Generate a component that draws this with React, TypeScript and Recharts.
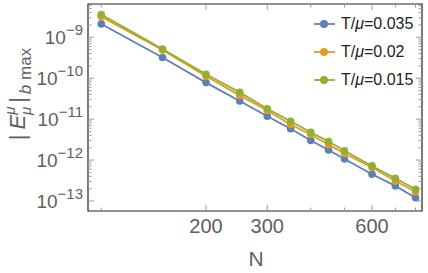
import { LineChart, Line, XAxis, YAxis, ReferenceArea } from "recharts";

// N values (log x axis)
const nValues = [100, 150, 200, 250, 300, 350, 400, 450, 500, 600, 700, 800];

// |E^mu_mu|_b max
const eT035 = [2.12e-9, 3.2e-10, 7.8e-11, 2.77e-11, 1.18e-11, 5.8e-12, 3.0e-12, 1.76e-12, 1.06e-12, 4.5e-13, 2.34e-13, 1.2e-13];
const eT02 = [3.2e-9, 4.87e-10, 1.12e-10, 3.81e-11, 1.63e-11, 7.4e-12, 4.2e-12, 2.38e-12, 1.46e-12, 6.6e-13, 3.1e-13, 1.69e-13];
const eT015 = [3.6e-9, 5.15e-10, 1.25e-10, 4.5e-11, 1.8e-11, 8.9e-12, 4.8e-12, 2.83e-12, 1.69e-12, 7.2e-13, 3.6e-13, 1.94e-13];

const seriesNames = ["T/μ=0.035", "T/μ=0.02", "T/μ=0.015"];
const seriesKeys = ["a", "b", "c"];
const COLORS = ["#5E81B5", "#E19C24", "#8FB032"];

const xMajor = [200, 300, 600];
const xMinor = [100, 400, 500, 700, 800];
const yExponents = [-13, -12, -11, -10, -9];
const yMinorFactors = [2, 3, 4, 5, 6, 7, 8, 9];

const X_DOMAIN = [91.6, 835];
const Y_DOMAIN = [5.7e-14, 6.5e-9];

const W = 428;
const H = 273;
const PLOT_LEFT = 88;
const PLOT_RIGHT = 422;
const PLOT_TOP = 4;
const PLOT_BOTTOM = 211;

const data = nValues.map((n, i) => ({ n, a: eT035[i], b: eT02[i], c: eT015[i] }));

const yMajor = yExponents.map((e) => Math.pow(10, e));
const yMinor = yExponents.flatMap((e) =>
  yMinorFactors.map((f) => f * Math.pow(10, e))
).filter((v) => v > Y_DOMAIN[0] && v < Y_DOMAIN[1]);

const FONT = "'Liberation Sans', Arial, sans-serif";
const TEXT = "#606060";
const TICK = "#9a9a9a";

function XTick(props: any) {
  const { x, y, payload } = props;
  const v = payload.value;
  const major = xMajor.includes(v);
  const len = major ? 6 : 3.5;
  return (
    <g>
      <line x1={x} x2={x} y1={y} y2={y - len} stroke={TICK} />
      <line x1={x} x2={x} y1={PLOT_TOP} y2={PLOT_TOP + len} stroke={TICK} />
      {major && (
        <text x={x} y={y + 22} textAnchor="middle" fontSize={20} fill={TEXT} fontFamily={FONT}>
          {v}
        </text>
      )}
    </g>
  );
}

function YTick(props: any) {
  const { x, y, payload } = props;
  const v = payload.value;
  const exp = Math.round(Math.log10(v));
  const major = Math.abs(Math.log10(v) - exp) < 1e-6;
  const len = major ? 6 : 3.5;
  return (
    <g>
      <line x1={x} x2={x + len} y1={y} y2={y} stroke={TICK} />
      <line x1={PLOT_RIGHT} x2={PLOT_RIGHT - len} y1={y} y2={y} stroke={TICK} />
      {major && (
        <text x={x - 5} y={y + 7} textAnchor="end" fontSize={19} fill={TEXT} fontFamily={FONT}>
          <tspan>10</tspan>
          <tspan fontSize={15} dy={-9}>{"\u2212" + Math.abs(exp)}</tspan>
        </text>
      )}
    </g>
  );
}

function LegendBox() {
  return (
    <div style={{ position: "absolute", left: 312, top: 10, fontFamily: FONT, fontSize: 16, color: "#222" }}>
      {seriesNames.map((name, i) => (
        <div key={name} style={{ display: "flex", alignItems: "center", height: 28 }}>
          <svg width={26} height={12} style={{ marginRight: 3 }}>
            <line x1={2} x2={23} y1={6} y2={6} stroke={COLORS[i]} strokeWidth={1.8} />
            <circle cx={12} cy={6} r={4} fill={COLORS[i]} />
          </svg>
          <span>
            T/<i>μ</i>
            {name.slice(3)}
          </span>
        </div>
      ))}
    </div>
  );
}

function Labels() {
  return (
    <svg width={W} height={H} style={{ position: "absolute", left: 0, top: 0, pointerEvents: "none" }}>
      <text
        transform="translate(25,94) rotate(-90)"
        textAnchor="middle"
        fontSize={22}
        fill={TEXT}
        fontFamily={FONT}
      >
        <tspan>|</tspan>
        <tspan dx={5} fontStyle="italic">E</tspan>
        <tspan fontSize={15} fontStyle="italic" dy={-10}>μ</tspan>
        <tspan fontSize={15} fontStyle="italic" dx={-8.5} dy={16}>μ</tspan>
        <tspan dx={4} dy={-6}>|</tspan>
        <tspan fontSize={17} fontStyle="italic" dx={3} dy={6}>b</tspan>
        <tspan fontSize={17}> max</tspan>
      </text>
      <text x={256} y={266} textAnchor="middle" fontSize={21} fill={TEXT} fontFamily={FONT}>
        N
      </text>
    </svg>
  );
}

export default function App() {
  return (
    <div style={{ position: "absolute", left: 0, top: 0, width: W, height: H, background: "#fff" }}>
      <LineChart
        width={W}
        height={H}
        data={data}
        margin={{ top: PLOT_TOP, right: W - PLOT_RIGHT, bottom: 0, left: 0 }}
      >
        <XAxis
          dataKey="n"
          type="number"
          scale="log"
          domain={X_DOMAIN}
          allowDataOverflow
          ticks={[...xMajor, ...xMinor]}
          interval={0}
          tick={<XTick />}
          tickLine={false}
          axisLine={false}
          tickSize={0}
          tickMargin={0}
          height={H - PLOT_BOTTOM}
        />
        <YAxis
          type="number"
          scale="log"
          domain={Y_DOMAIN}
          allowDataOverflow
          ticks={[...yMajor, ...yMinor]}
          interval={0}
          tick={<YTick />}
          tickLine={false}
          axisLine={false}
          tickSize={0}
          tickMargin={0}
          width={PLOT_LEFT}
        />
        <ReferenceArea
          x1={X_DOMAIN[0]}
          x2={X_DOMAIN[1]}
          y1={Y_DOMAIN[0]}
          y2={Y_DOMAIN[1]}
          fill="none"
          stroke="#222"
          strokeWidth={1.2}
          ifOverflow="visible"
        />
        {seriesKeys.map((k, i) => (
          <Line
            key={k}
            dataKey={k}
            stroke={COLORS[i]}
            strokeWidth={1.8}
            dot={{ r: 3.8, fill: COLORS[i], stroke: COLORS[i], strokeWidth: 0 }}
            isAnimationActive={false}
          />
        ))}
      </LineChart>
      <LegendBox />
      <Labels />
    </div>
  );
}
